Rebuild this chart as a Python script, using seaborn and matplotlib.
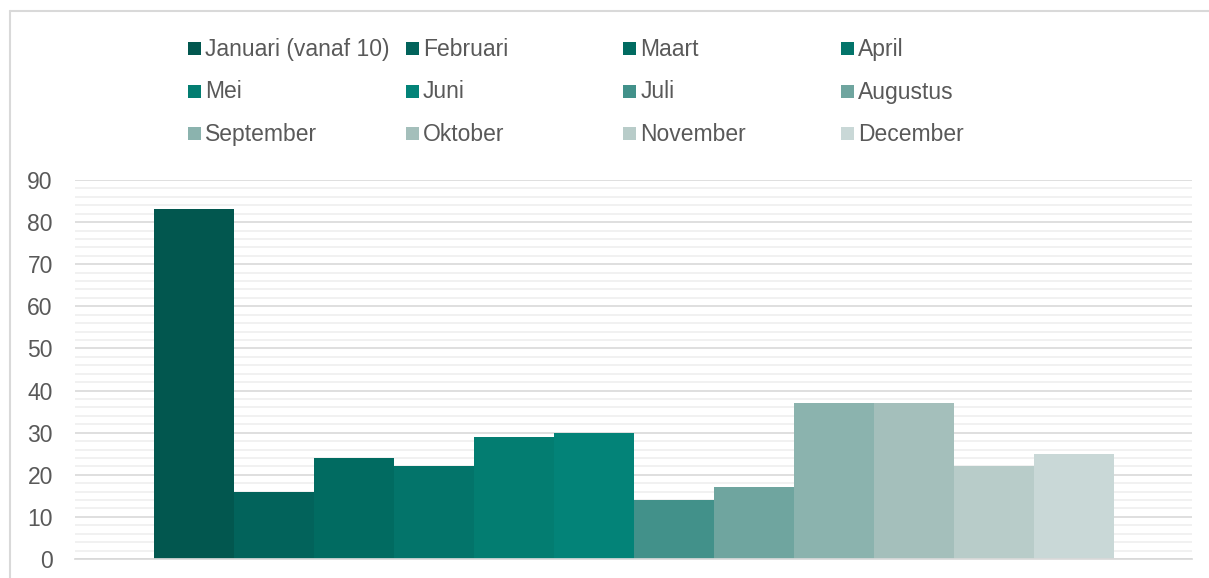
import matplotlib
matplotlib.use("Agg")
import matplotlib.pyplot as plt
import seaborn as sns
import pandas as pd
from matplotlib.patches import Rectangle
from matplotlib.lines import Line2D
from matplotlib.ticker import MultipleLocator

# data
months = ["Januari (vanaf 10)", "Februari", "Maart", "April", "Mei", "Juni",
          "Juli", "Augustus", "September", "Oktober", "November", "December"]
values = [83, 16, 24, 22, 29, 30, 14, 17, 37, 37, 22, 25]
colors = ["#02574F", "#02635B", "#016B61", "#03746A", "#037D71", "#038378",
          "#42918A", "#6FA59F", "#8BB3AE", "#A4BFBB", "#B8CCC9", "#C9D8D7"]

df = pd.DataFrame({"month": months, "value": values})

sns.set_theme(style="white")
plt.rcParams['font.family'] = ['Liberation Sans', 'DejaVu Sans']

W, H = 1209, 578
fig = plt.figure(figsize=(W / 100, H / 100), dpi=100)
ax = fig.add_axes([75 / W, 1 - 559 / H, (1192 - 75) / W, (559 - 180) / H])

sns.barplot(data=df, x="month", y="value", hue="month", palette=colors,
            width=1.0, dodge=False, legend=False, ax=ax, saturation=1,
            linewidth=0, edgecolor="none")

span = (1192 - 75) / 80.0
ax.set_xlim(5.5 - span / 2, 5.5 + span / 2)
ax.set_ylim(0, 90)
ax.yaxis.set_major_locator(MultipleLocator(10))
ax.yaxis.set_minor_locator(MultipleLocator(2))
ax.grid(axis="y", which="major", color="#D9D9D9", linewidth=1.2)
ax.grid(axis="y", which="minor", color="#EFEFEF", linewidth=1.2)
ax.set_axisbelow(True)
ax.set_xticks([])
ax.set_xlabel("")
ax.set_ylabel("")
for s in ["top", "right", "left"]:
    ax.spines[s].set_visible(False)
ax.spines["bottom"].set_color("#D9D9D9")
ax.tick_params(axis="y", which="both", length=0, pad=16, labelsize=16.5,
               labelcolor="#595959")

# legend laid out like the original, fixed-width columns
for i, (m, c) in enumerate(zip(months, colors)):
    row, col = divmod(i, 4)
    x = 188 + col * 217.7
    y = 48.5 + row * 42.5
    fig.add_artist(Rectangle((x / W, 1 - (y + 6.5) / H), 13 / W, 13 / H,
                             transform=fig.transFigure, color=c, lw=0))
    fig.text((x + 17) / W, 1 - (y + 1) / H, m, fontsize=16.5, color="#595959",
             va="center", ha="left")

# chart frame
fig.add_artist(Line2D([10 / W, 10 / W], [1 - 11 / H, 0], transform=fig.transFigure,
                      color="#D9D9D9", lw=1.5))
fig.add_artist(Line2D([10 / W, 1], [1 - 11 / H, 1 - 11 / H], transform=fig.transFigure,
                      color="#D9D9D9", lw=1.5))

fig.savefig("out.png", dpi=100)
